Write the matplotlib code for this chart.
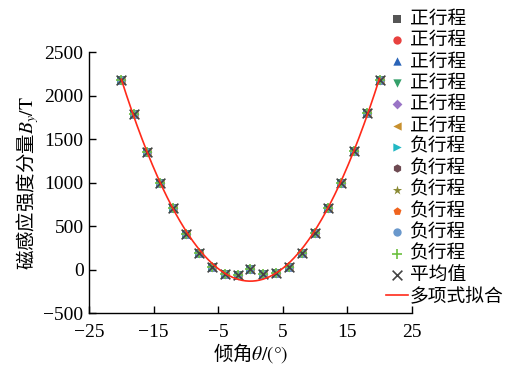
import numpy as np
import matplotlib
matplotlib.use("Agg")
import matplotlib.pyplot as plt

plt.rcParams['font.family'] = ['Liberation Serif', 'Noto Sans CJK SC']
plt.rcParams['mathtext.fontset'] = 'stix'
plt.rcParams['axes.unicode_minus'] = True

angles = [-20, -18, -16, -14, -12, -10, -8, -6, -4, -2, 0, 2, 4, 6, 8, 10, 12, 14, 16, 18, 20]
mean_by = [2180, 1785, 1356, 992, 703, 405, 186, 25, -50, -62, 2, -55, -44, 25, 186, 423, 703, 998, 1365, 1800, 2185]

series_labels = ['正行程'] * 6 + ['负行程'] * 6 + ['平均值']
series_markers = ['s', 'o', '^', 'v', 'D', '<', '>', 'h', '*', 'p', 'o', '+', 'x']
series_colors = ['#555555', '#e8413f', '#2a64b8', '#35a06a', '#9a74c6', '#c8902e',
                 '#22b8c4', '#6e4a52', '#8a8a34', '#f0641e', '#6a98cc', '#6cc040', '#444444']
fit_label = '多项式拟合'

x = np.array(angles, dtype=float)
y = np.array(mean_by, dtype=float)

fig = plt.figure(figsize=(5.09, 3.70), dpi=100)
ax = fig.add_axes([0.175, 0.154, 0.634, 0.705])

handles = []
for lab, m, c in zip(series_labels, series_markers, series_colors):
    ms = 6 if m not in ('*', '+', 'x') else 7
    if m == 'D':
        ms = 5
    h = ax.scatter(x, y, marker=m, color=c, s=ms**2, label=lab, zorder=3,
                   linewidths=1.2 if m in ('+', 'x') else 0)
    handles.append(h)

coef = np.polyfit(x, y, 2)
xf = np.linspace(-20, 20, 300)
line, = ax.plot(xf, np.polyval(coef, xf), color='#ff2a1a', lw=1.2, label=fit_label, zorder=4)
handles.append(line)

ax.set_xlim(-25, 25)
ax.set_ylim(-500, 2500)
ax.set_xticks([-25, -15, -5, 5, 15, 25])
ax.set_yticks([-500, 0, 500, 1000, 1500, 2000, 2500])
for s in ['top', 'right']:
    ax.spines[s].set_visible(False)
for s in ['left', 'bottom']:
    ax.spines[s].set_linewidth(1.0)
ax.tick_params(direction='in', length=5, width=1.0, labelsize=14)
ax.tick_params(axis='x', pad=8)
ax.tick_params(axis='y', pad=4)
ax.set_xlabel(r'倾角$\theta\mathrm{/(°)}$', fontsize=14, labelpad=0,
              fontfamily='Noto Sans CJK SC')
ax.set_ylabel(r'磁感应强度分量$B_y\mathrm{/T}$', fontsize=14, labelpad=2,
              fontfamily='Noto Sans CJK SC')

leg = fig.legend(handles=handles, labels=series_labels + [fit_label],
                 loc='upper left', bbox_to_anchor=(0.750, 0.9895),
                 borderaxespad=0,
                 frameon=False, prop={'family': 'Noto Sans CJK SC', 'size': 13.5},
                 labelspacing=0.02,
                 handlelength=1.2, handletextpad=0.1, borderpad=0.2,
                 markerscale=1.0)

fig.savefig('out.png', dpi=100)
